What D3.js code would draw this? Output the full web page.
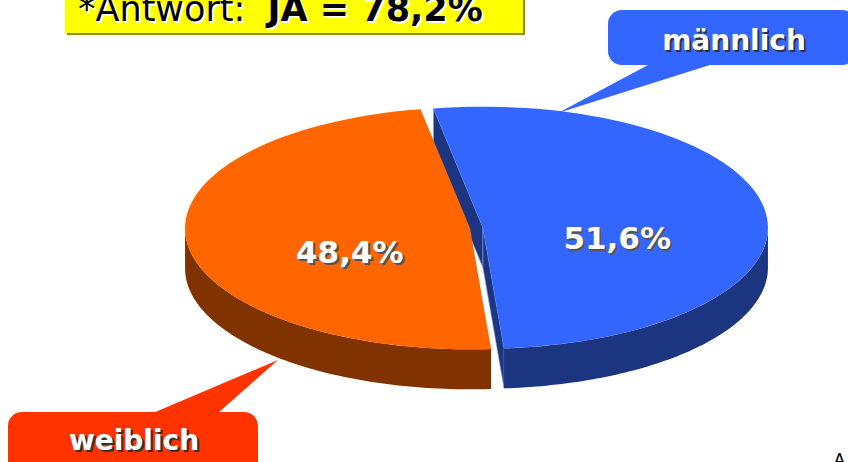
<!DOCTYPE html>
<html>
<head>
<meta charset="utf-8">
<script src="https://cdn.jsdelivr.net/npm/d3@7"></script>
<style>
  body { margin: 0; background: #fff; }
  svg { display: block; }
  text { font-family: "DejaVu Sans", Verdana, sans-serif; }
</style>
</head>
<body>
<div id="chart"></div>
<script>
// data
const categories = ["männlich", "weiblich"];
const values = [51.6, 48.4];
const titleLabel = "*Antwort:";
const titleValue = "JA = 78,2%";
const footText = "A";

const width = 848, height = 462;
const cx = 476.5, cy = 228, rx = 285, ry = 121, depth = 40, explode = 6.5;
const startDeg = -10;

var topColor = d3.scaleOrdinal().domain(categories).range(["#3366ff", "#ff6600"]);
var sideColor = d3.scaleOrdinal().domain(categories).range(["#1b3580", "#803300"]);
var calloutColor = d3.scaleOrdinal().domain(categories).range(["#3366ff", "#ff3300"]);

var de = d3.formatLocale({decimal: ",", thousands: ".", grouping: [3], currency: ["", "€"]});
var fmt = function(v) { return de.format(".1f")(v) + "%"; };

// callout boxes (layout only)
var callouts = {
  "männlich": {x: 608, y: 10, w: 248, h: 55, tail: [[650, 64], [713, 64], [558, 113]], tx: 734, ty: 50},
  "weiblich": {x: 8, y: 412, w: 250, h: 70, tail: [[153, 413], [218, 413], [278, 360]], tx: 134, ty: 450}
};

var svg = d3.select("#chart").append("svg")
    .attr("width", width)
    .attr("height", height);

// text drawn twice: shadow first, then the text itself
function shadowText(g, x, y, str, size, weight, fill, shadow, anchor) {
  g.append("text")
      .attr("x", x + 2).attr("y", y + 2)
      .attr("text-anchor", anchor)
      .attr("font-size", size).attr("font-weight", weight)
      .attr("fill", shadow)
      .text(str);
  g.append("text")
      .attr("x", x).attr("y", y)
      .attr("text-anchor", anchor)
      .attr("font-size", size).attr("font-weight", weight)
      .attr("fill", fill)
      .text(str);
}

// title box
svg.append("rect").attr("x", 67).attr("y", -6).attr("width", 458).attr("height", 41).attr("fill", "#8f8f00");
svg.append("rect").attr("x", 65).attr("y", -6).attr("width", 458).attr("height", 39).attr("fill", "#ffff00");
[["#ffffff", 2], ["#000000", 0]].forEach(function(s) {
  var t = svg.append("text")
      .attr("x", 78 + s[1]).attr("y", 21 + s[1])
      .attr("font-size", 35)
      .attr("fill", s[0])
      .style("white-space", "pre");
  t.append("tspan").text(titleLabel + "  ");
  t.append("tspan").attr("font-weight", "bold").text(titleValue);
});

// pie
var a0 = startDeg * Math.PI / 180;
var pie = d3.pie().sort(null).value(function(d) { return d.value; })
    .startAngle(a0).endAngle(a0 + 2 * Math.PI);
var arcs = pie(categories.map(function(c, i) { return {name: c, value: values[i]}; }));

arcs.forEach(function(d) {
  var m = (d.startAngle + d.endAngle) / 2;
  d.mid = m;
  d.ox = cx + explode * Math.sin(m);
  d.oy = cy - explode * Math.cos(m) * ry / rx;
});

function pt(d, a, dz) { return [d.ox + rx * Math.sin(a), d.oy - ry * Math.cos(a) + (dz || 0)]; }
function rim(d, s, e, dz) {
  return d3.range(0, 81).map(function(i) { return pt(d, s + (e - s) * i / 80, dz); });
}
var line = d3.line().curve(d3.curveLinearClosed);

var pieG = svg.append("g");

// radial walls facing the viewer
arcs.forEach(function(d) {
  [[d.startAngle, -Math.sin(d.startAngle)], [d.endAngle, Math.sin(d.endAngle)]].forEach(function(w) {
    if (w[1] <= 0) return;
    var p = pt(d, w[0]);
    pieG.append("path")
        .attr("d", line([[d.ox, d.oy], p, [p[0], p[1] + depth], [d.ox, d.oy + depth]]))
        .attr("fill", sideColor(d.data.name))
        .attr("stroke", "#8fa3e0").attr("stroke-width", 0.6);
  });
});

// outer side walls
arcs.forEach(function(d) {
  var s = Math.max(d.startAngle, Math.PI / 2), e = Math.min(d.endAngle, 3 * Math.PI / 2);
  if (s >= e) return;
  var pts = rim(d, s, e, 0).concat(rim(d, e, s, depth));
  pieG.append("path")
      .attr("d", line(pts))
      .attr("fill", sideColor(d.data.name));
});

// top faces
arcs.forEach(function(d) {
  pieG.append("path")
      .attr("d", line([[d.ox, d.oy]].concat(rim(d, d.startAngle, d.endAngle, 0))))
      .attr("fill", topColor(d.data.name));
});

// value labels
arcs.forEach(function(d) {
  var x = d.ox + rx * 0.45 * Math.sin(d.mid) + 7;
  var y = d.oy - ry * 0.45 * Math.cos(d.mid) + 17 + 11;
  shadowText(pieG, x, y, fmt(d.data.value), 31, "bold", "#ffffff", "#555555", "middle");
});

// callouts
categories.forEach(function(c) {
  var b = callouts[c];
  var g = svg.append("g");
  g.append("path").attr("d", line(b.tail)).attr("fill", calloutColor(c));
  g.append("rect")
      .attr("x", b.x).attr("y", b.y).attr("width", b.w).attr("height", b.h)
      .attr("rx", 14).attr("fill", calloutColor(c));
  shadowText(g, b.tx, b.ty, c, 28, "bold", "#ffffff", "#333333", "middle");
});

// cut-off footer text
svg.append("text")
    .attr("x", 834).attr("y", 465)
    .attr("font-size", 16)
    .attr("fill", "#000")
    .text(footText);
</script>
</body>
</html>
